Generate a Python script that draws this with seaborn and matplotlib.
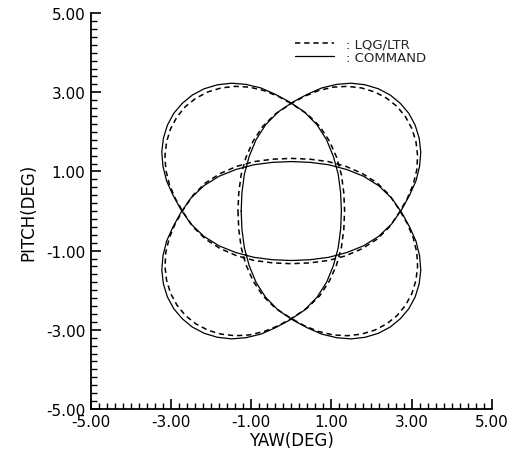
import matplotlib
matplotlib.use("Agg")
import matplotlib.pyplot as plt
from matplotlib.ticker import MultipleLocator, FormatStrFormatter
import pandas as pd
import seaborn as sns

# commanded yaw/pitch trace (deg)
cmd_x = [-1.25, -1.23, -1.17, -1.05, -0.88, -0.64, -0.32, 0.05, 0.40, 0.76,
         1.13, 1.49, 1.84, 2.17, 2.47, 2.72, 2.93, 3.09, 3.19, 3.23,
         3.20, 3.11, 2.95, 2.76, 2.51, 2.18, 1.80, 1.38, 0.93, 0.47,
         0.00, -0.47, -0.93, -1.38, -1.80, -2.18, -2.51, -2.76, -2.95, -3.11,
         -3.20, -3.23, -3.19, -3.09, -2.93, -2.72, -2.47, -2.17, -1.84, -1.49,
         -1.13, -0.76, -0.40, -0.05, 0.32, 0.64, 0.88, 1.05, 1.17, 1.23,
         1.25, 1.23, 1.17, 1.05, 0.88, 0.64, 0.32, -0.05, -0.40, -0.76,
         -1.13, -1.49, -1.84, -2.17, -2.47, -2.72, -2.93, -3.09, -3.19, -3.23,
         -3.20, -3.11, -2.95, -2.76, -2.51, -2.18, -1.80, -1.38, -0.93, -0.47,
         0.00, 0.47, 0.93, 1.38, 1.80, 2.18, 2.51, 2.76, 2.95, 3.11,
         3.20, 3.23, 3.19, 3.09, 2.93, 2.72, 2.47, 2.17, 1.84, 1.49,
         1.13, 0.76, 0.40, 0.05, -0.32, -0.64, -0.88, -1.05, -1.17, -1.23,
         -1.25]
cmd_y = [0.00, -0.47, -0.93, -1.38, -1.80, -2.18, -2.51, -2.76, -2.95, -3.11,
         -3.20, -3.23, -3.19, -3.09, -2.93, -2.72, -2.47, -2.17, -1.84, -1.49,
         -1.13, -0.76, -0.40, -0.05, 0.32, 0.64, 0.88, 1.05, 1.17, 1.23,
         1.25, 1.23, 1.17, 1.05, 0.88, 0.64, 0.32, -0.05, -0.40, -0.76,
         -1.13, -1.49, -1.84, -2.17, -2.47, -2.72, -2.93, -3.09, -3.19, -3.23,
         -3.20, -3.11, -2.95, -2.76, -2.51, -2.18, -1.80, -1.38, -0.93, -0.47,
         0.00, 0.47, 0.93, 1.38, 1.80, 2.18, 2.51, 2.76, 2.95, 3.11,
         3.20, 3.23, 3.19, 3.09, 2.93, 2.72, 2.47, 2.17, 1.84, 1.49,
         1.13, 0.76, 0.40, 0.05, -0.32, -0.64, -0.88, -1.05, -1.17, -1.23,
         -1.25, -1.23, -1.17, -1.05, -0.88, -0.64, -0.32, 0.05, 0.40, 0.76,
         1.13, 1.49, 1.84, 2.17, 2.47, 2.72, 2.93, 3.09, 3.19, 3.23,
         3.20, 3.11, 2.95, 2.76, 2.51, 2.18, 1.80, 1.38, 0.93, 0.47,
         0.00]

# LQG/LTR response trace (deg)
resp_x = [-1.33, -1.31, -1.25, -1.13, -0.95, -0.71, -0.40, -0.04, 0.31, 0.67,
          1.04, 1.40, 1.75, 2.08, 2.38, 2.64, 2.85, 3.01, 3.11, 3.15,
          3.13, 3.04, 2.89, 2.69, 2.45, 2.14, 1.77, 1.36, 0.92, 0.46,
          0.00, -0.46, -0.92, -1.36, -1.77, -2.14, -2.45, -2.69, -2.89, -3.04,
          -3.13, -3.15, -3.11, -3.01, -2.85, -2.64, -2.38, -2.08, -1.75, -1.40,
          -1.04, -0.67, -0.31, 0.04, 0.40, 0.71, 0.95, 1.13, 1.25, 1.31,
          1.33, 1.31, 1.25, 1.13, 0.95, 0.71, 0.40, 0.04, -0.31, -0.67,
          -1.04, -1.40, -1.75, -2.08, -2.38, -2.64, -2.85, -3.01, -3.11, -3.15,
          -3.13, -3.04, -2.89, -2.69, -2.45, -2.14, -1.77, -1.36, -0.92, -0.46,
          0.00, 0.46, 0.92, 1.36, 1.77, 2.14, 2.45, 2.69, 2.89, 3.04,
          3.13, 3.15, 3.11, 3.01, 2.85, 2.64, 2.38, 2.08, 1.75, 1.40,
          1.04, 0.67, 0.31, -0.04, -0.40, -0.71, -0.95, -1.13, -1.25, -1.31,
          -1.33]
resp_y = [0.00, -0.46, -0.92, -1.36, -1.77, -2.14, -2.45, -2.69, -2.89, -3.04,
          -3.13, -3.15, -3.11, -3.01, -2.85, -2.64, -2.38, -2.08, -1.75, -1.40,
          -1.04, -0.67, -0.31, 0.04, 0.40, 0.71, 0.95, 1.13, 1.25, 1.31,
          1.33, 1.31, 1.25, 1.13, 0.95, 0.71, 0.40, 0.04, -0.31, -0.67,
          -1.04, -1.40, -1.75, -2.08, -2.38, -2.64, -2.85, -3.01, -3.11, -3.15,
          -3.13, -3.04, -2.89, -2.69, -2.45, -2.14, -1.77, -1.36, -0.92, -0.46,
          0.00, 0.46, 0.92, 1.36, 1.77, 2.14, 2.45, 2.69, 2.89, 3.04,
          3.13, 3.15, 3.11, 3.01, 2.85, 2.64, 2.38, 2.08, 1.75, 1.40,
          1.04, 0.67, 0.31, -0.04, -0.40, -0.71, -0.95, -1.13, -1.25, -1.31,
          -1.33, -1.31, -1.25, -1.13, -0.95, -0.71, -0.40, -0.04, 0.31, 0.67,
          1.04, 1.40, 1.75, 2.08, 2.38, 2.64, 2.85, 3.01, 3.11, 3.15,
          3.13, 3.04, 2.89, 2.69, 2.45, 2.14, 1.77, 1.36, 0.92, 0.46,
          0.00]

ticks = [-5, -3, -1, 1, 3, 5]

df_cmd = pd.DataFrame({"yaw": cmd_x, "pitch": cmd_y})
df_resp = pd.DataFrame({"yaw": resp_x, "pitch": resp_y})

sns.set_theme(style="ticks")
plt.rcParams["font.family"] = ["DejaVu Sans"]
plt.rcParams["axes.unicode_minus"] = False

fig = plt.figure(figsize=(5.16, 4.56), dpi=100)
ax = fig.add_axes([0.176, 0.101, 0.777, 0.868])

sns.lineplot(data=df_resp, x="yaw", y="pitch", sort=False, estimator=None,
             color="black", linewidth=1.1, linestyle=(0, (3.5, 2.5)),
             label=": LQG/LTR", ax=ax)
sns.lineplot(data=df_cmd, x="yaw", y="pitch", sort=False, estimator=None,
             color="black", linewidth=0.9, label=": COMMAND", ax=ax)

ax.legend(loc="upper left", bbox_to_anchor=(0.509, 0.938), frameon=False,
          fontsize=9.5, handlelength=3.0, handletextpad=0.9,
          borderpad=0, borderaxespad=0, labelspacing=0.0)

ax.set_xlim(-5, 5)
ax.set_ylim(-5, 5)
ax.set_xticks(ticks)
ax.set_yticks(ticks)
ax.xaxis.set_minor_locator(MultipleLocator(0.2))
ax.yaxis.set_minor_locator(MultipleLocator(0.2))
ax.xaxis.set_major_formatter(FormatStrFormatter("%.2f"))
ax.yaxis.set_major_formatter(FormatStrFormatter("%.2f"))
ax.tick_params(which="major", direction="in", length=7, width=1.2,
               labelsize=11, pad=4, colors="black")
ax.tick_params(which="minor", direction="in", length=4, width=1.0,
               colors="black")

ax.set_xlabel("YAW(DEG)", fontsize=12, labelpad=1, color="black")
ax.set_ylabel("PITCH(DEG)", fontsize=12, labelpad=6, color="black")

sns.despine(ax=ax)
for s in ["left", "bottom"]:
    ax.spines[s].set_linewidth(1.3)
    ax.spines[s].set_color("black")

fig.savefig("out.png", dpi=100)
